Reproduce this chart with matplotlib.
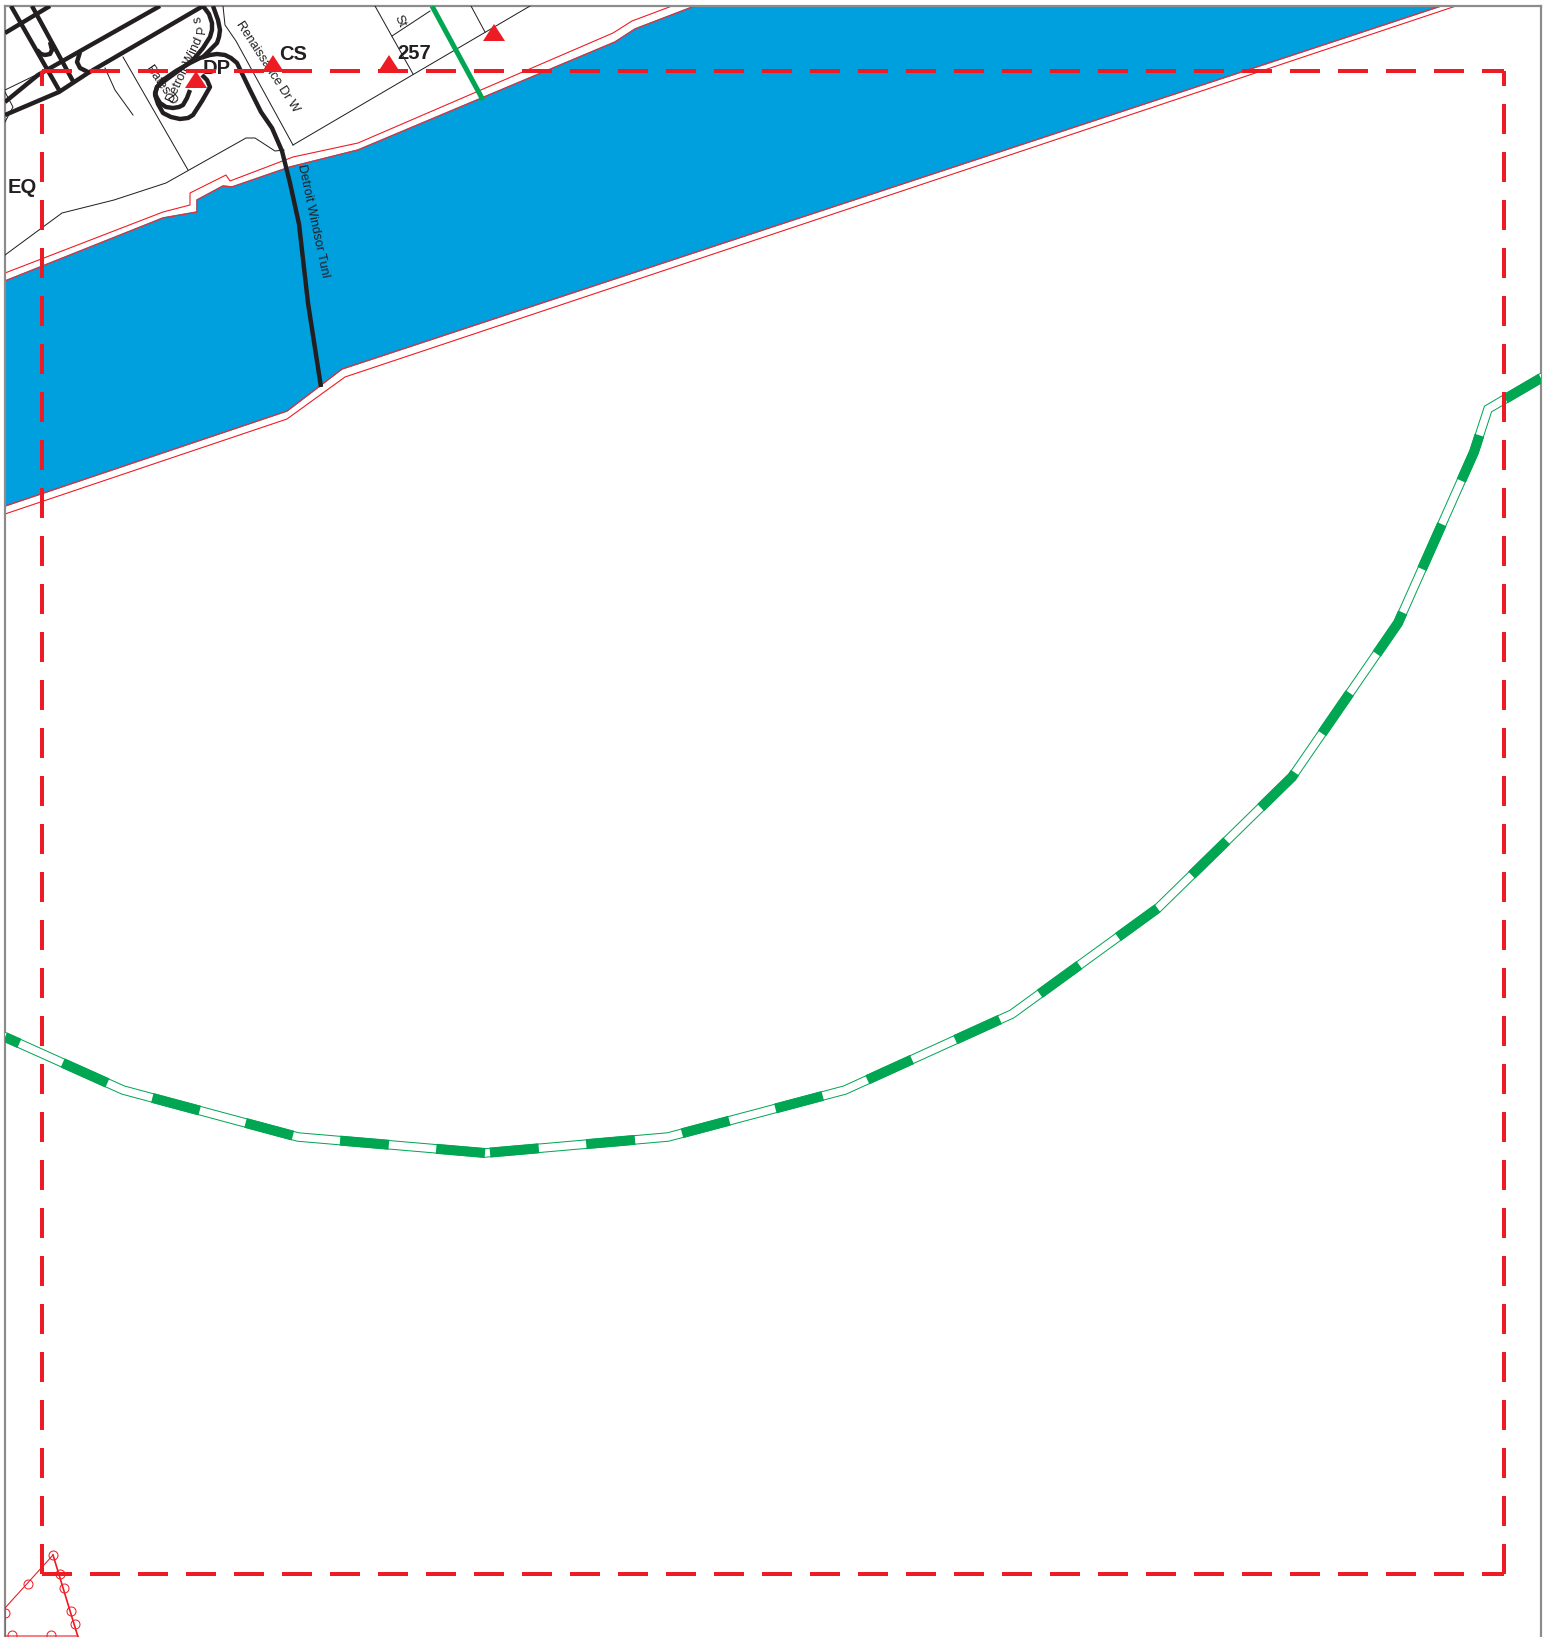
import matplotlib
matplotlib.use('Agg')
import matplotlib.pyplot as plt

plt.rcParams['lines.scale_dashes'] = False
plt.rcParams['font.family'] = ['Liberation Sans', 'DejaVu Sans']

W, H = 1548, 1637
DPI = 100
LEFT, TOP, RIGHT = 5, 6, 1541

RED = '#ED1C24'
GREEN = '#00A651'
BLUE = '#009FDD'
INK = '#231F20'
FRAME = '#8C8C8C'

# --- map data (image pixel coordinates) ---
shore_in_x = [5, 163, 197, 197, 223, 232, 290, 358, 615, 635, 695]
shore_in_y = [281, 218, 212, 200, 186, 187, 167, 150, 42, 29, 6]
shore_out_x = [5, 163, 190, 190, 226, 230, 293, 358, 613, 632, 672]
shore_out_y = [273, 212, 205, 193, 175, 181, 157, 143, 33, 21, 6]
bank_in_x = [5, 287, 342, 1441]
bank_in_y = [506, 411, 369, 6]
bank_out_x = [5, 287, 345, 1456]
bank_out_y = [514, 419, 377, 6]

tunnel_x = [321, 308, 299, 290, 282, 272, 261, 250, 237, 231, 225, 217, 210, 200, 190, 176, 163, 157,
            155, 158, 163, 171, 180, 188, 193, 202, 210, 207, 202]
tunnel_y = [387, 303, 224, 183, 151, 128, 112, 90, 63, 58, 55, 54, 55, 58, 63, 71, 80, 87,
            95, 104, 113, 117, 119, 118, 115, 101, 87, 80, 75]

thick_roads = [
    ([11, 59], [6, 90]),
    ([32, 74], [6, 83]),
    ([50, 5], [6, 33]),
    ([160, 82, 38, 5], [6, 50, 75, 102]),
    ([203, 88, 59, 5], [6, 73, 92, 115]),
    ([37, 41, 45, 50, 52, 50], [50, 54, 55, 54, 50, 42]),
    ([80, 77, 80, 88], [52, 62, 68, 72]),
    ([203, 209, 212, 212, 210, 203, 193, 178, 163, 157, 155, 157, 160, 166, 173, 179, 183, 187, 190],
     [6, 14, 23, 30, 37, 48, 60, 71, 82, 87, 93, 98, 103, 107, 108, 107, 105, 98, 90]),
    ([213, 218, 220, 219, 217, 202], [6, 20, 30, 37, 43, 58]),
]
thin_roads = [
    ([375, 413], [6, 74]),
    ([430, 392], [11, 36]),
    ([530, 293], [6, 145]),
    ([471, 485], [6, 32]),
    ([223, 225, 236, 293], [6, 25, 41, 145]),
    ([123, 188], [57, 170]),
    ([5, 62, 114, 166, 246, 255, 275, 284], [255, 213, 200, 183, 138, 138, 151, 150]),
    ([105, 115, 133], [68, 90, 115]),
    ([5, 40], [90, 73]),
    ([5, 13, 5], [92, 107, 122]),
]

ferry_x = [432, 483]
ferry_y = [6, 100]

# route line, split in two dashed runs at the lowest vertex
route_x = [5, 123, 298, 485, 668, 845, 1012, 1158, 1292, 1398, 1474, 1488, 1541]
route_y = [1037, 1090, 1137, 1153, 1137, 1090, 1014, 908, 777, 623, 452, 409, 378]

triangle_x = [273, 389, 196, 494]
triangle_base = [72, 72, 88, 41]

# study area outline
area_left, area_right = 41.5, 1504
area_top, area_bottom = 71, 1574

# small red polygon, lower left
poly_x = [53, 5, 5, 78]
poly_y = [1555, 1608, 1636, 1636]
edge_x = [53, 78]
edge_y = [1555, 1637]
node_x = [53, 60, 64, 71, 75, 28, 12, 51, 5]
node_y = [1555, 1574, 1588, 1611, 1624, 1584, 1635, 1635, 1613]

labels = [('EQ', 22, 187), ('CS', 293, 54), ('257', 414, 53), ('DP', 217, 68)]
road_names = [
    ('Renaissance Dr W', 267, 67, -57),
    ('Detroit Windsor Tunl', 313, 221, -78),
    ('St', 400, 21, -65),
    ('Detroit Wind', 185, 70, 65),
    ('P', 202, 30, 85),
    ('s', 198, 19, 100),
    ('Bates D', 161, 85, -55),
]


def px(v):
    return v * 72 / DPI


fig = plt.figure(figsize=(W / DPI, H / DPI), dpi=DPI, facecolor='white')
ax = fig.add_axes([LEFT / W, 0, (RIGHT - LEFT) / W, 1 - TOP / H])
ax.set_xlim(LEFT, RIGHT)
ax.set_ylim(H, TOP)
ax.set_xticks([])
ax.set_yticks([])
ax.spines['bottom'].set_visible(False)
for side in ['left', 'right', 'top']:
    ax.spines[side].set_color(FRAME)
    ax.spines[side].set_linewidth(px(2.2))

# River
river_x = shore_in_x + bank_in_x[::-1]
river_y = shore_in_y + bank_in_y[::-1]
ax.fill(river_x, river_y, facecolor=BLUE, edgecolor=BLUE, linewidth=px(1.5), zorder=1)
ax.plot(shore_out_x, shore_out_y, color=RED, lw=px(1.1), zorder=2)
ax.plot(bank_out_x, bank_out_y, color=RED, lw=px(1.1), zorder=2)
ax.plot(shore_in_x, shore_in_y, color='#E0313A', lw=px(1.3), zorder=2)
ax.plot(bank_in_x, bank_in_y, color='#E0313A', lw=px(1.3), zorder=2)

# Roads
for xs, ys in thin_roads:
    ax.plot(xs, ys, color=INK, lw=px(1), zorder=3)
for xs, ys in thick_roads:
    ax.plot(xs, ys, color=INK, lw=px(4.4), zorder=4, solid_capstyle='butt', solid_joinstyle='round')
ax.plot(tunnel_x, tunnel_y, color=INK, lw=px(4.4), zorder=4, solid_capstyle='butt', solid_joinstyle='round')
ax.plot(ferry_x, ferry_y, color=GREEN, lw=px(5), zorder=5, solid_capstyle='butt')

# Route casing and dashes
ax.plot(route_x, route_y, color=GREEN, lw=px(9.5), zorder=5, solid_joinstyle='miter')
ax.plot(route_x, route_y, color='white', lw=px(7.5), zorder=6, solid_joinstyle='miter')
ax.plot(route_x[3::-1], route_y[3::-1], color=GREEN, lw=px(10), zorder=7,
        linestyle=(0, (px(49), px(47.5))), dash_capstyle='butt', dash_joinstyle='miter')
ax.plot(route_x[3:], route_y[3:], color=GREEN, lw=px(10), zorder=7,
        linestyle=(px(91.6), (px(49), px(47.6))), dash_capstyle='butt', dash_joinstyle='miter')

# Labels
for text, x, y in labels:
    ax.text(x, y, text, fontsize=14.5, fontweight='bold', color=INK, ha='center', va='center', zorder=8)
for text, x, y, angle in road_names:
    ax.text(x, y, text, fontsize=9.2, color=INK, ha='center', va='center', rotation=angle,
            rotation_mode='anchor', zorder=3)

# Triangles
for x, base in zip(triangle_x, triangle_base):
    ax.fill([x - 11, x, x + 11], [base, base - 17, base], color=RED, linewidth=0, zorder=9)

# Study area, dashes restart per side
dash_h = (0, (px(30), px(18)))
dash_v = (px(15), (px(30), px(18)))
for xs, ys, style in [
    ([area_left, area_right], [area_top, area_top], dash_h),
    ([area_left, area_right], [area_bottom, area_bottom], dash_h),
    ([area_left, area_left], [area_top, area_bottom], dash_v),
    ([area_right, area_right], [area_top, area_bottom], dash_v),
]:
    ax.plot(xs, ys, color=RED, lw=px(4), linestyle=style, dash_capstyle='butt', zorder=10)

# Lower left polygon
ax.plot(poly_x, poly_y, color=RED, lw=px(1.1), zorder=10)
ax.plot(edge_x, edge_y, color=RED, lw=px(1.7), zorder=10)
ax.plot(node_x, node_y, linestyle='none', marker='o', markersize=px(9), markerfacecolor='none',
        markeredgecolor=RED, markeredgewidth=px(1), zorder=10)

fig.savefig('out.png', dpi=DPI)
plt.close()
